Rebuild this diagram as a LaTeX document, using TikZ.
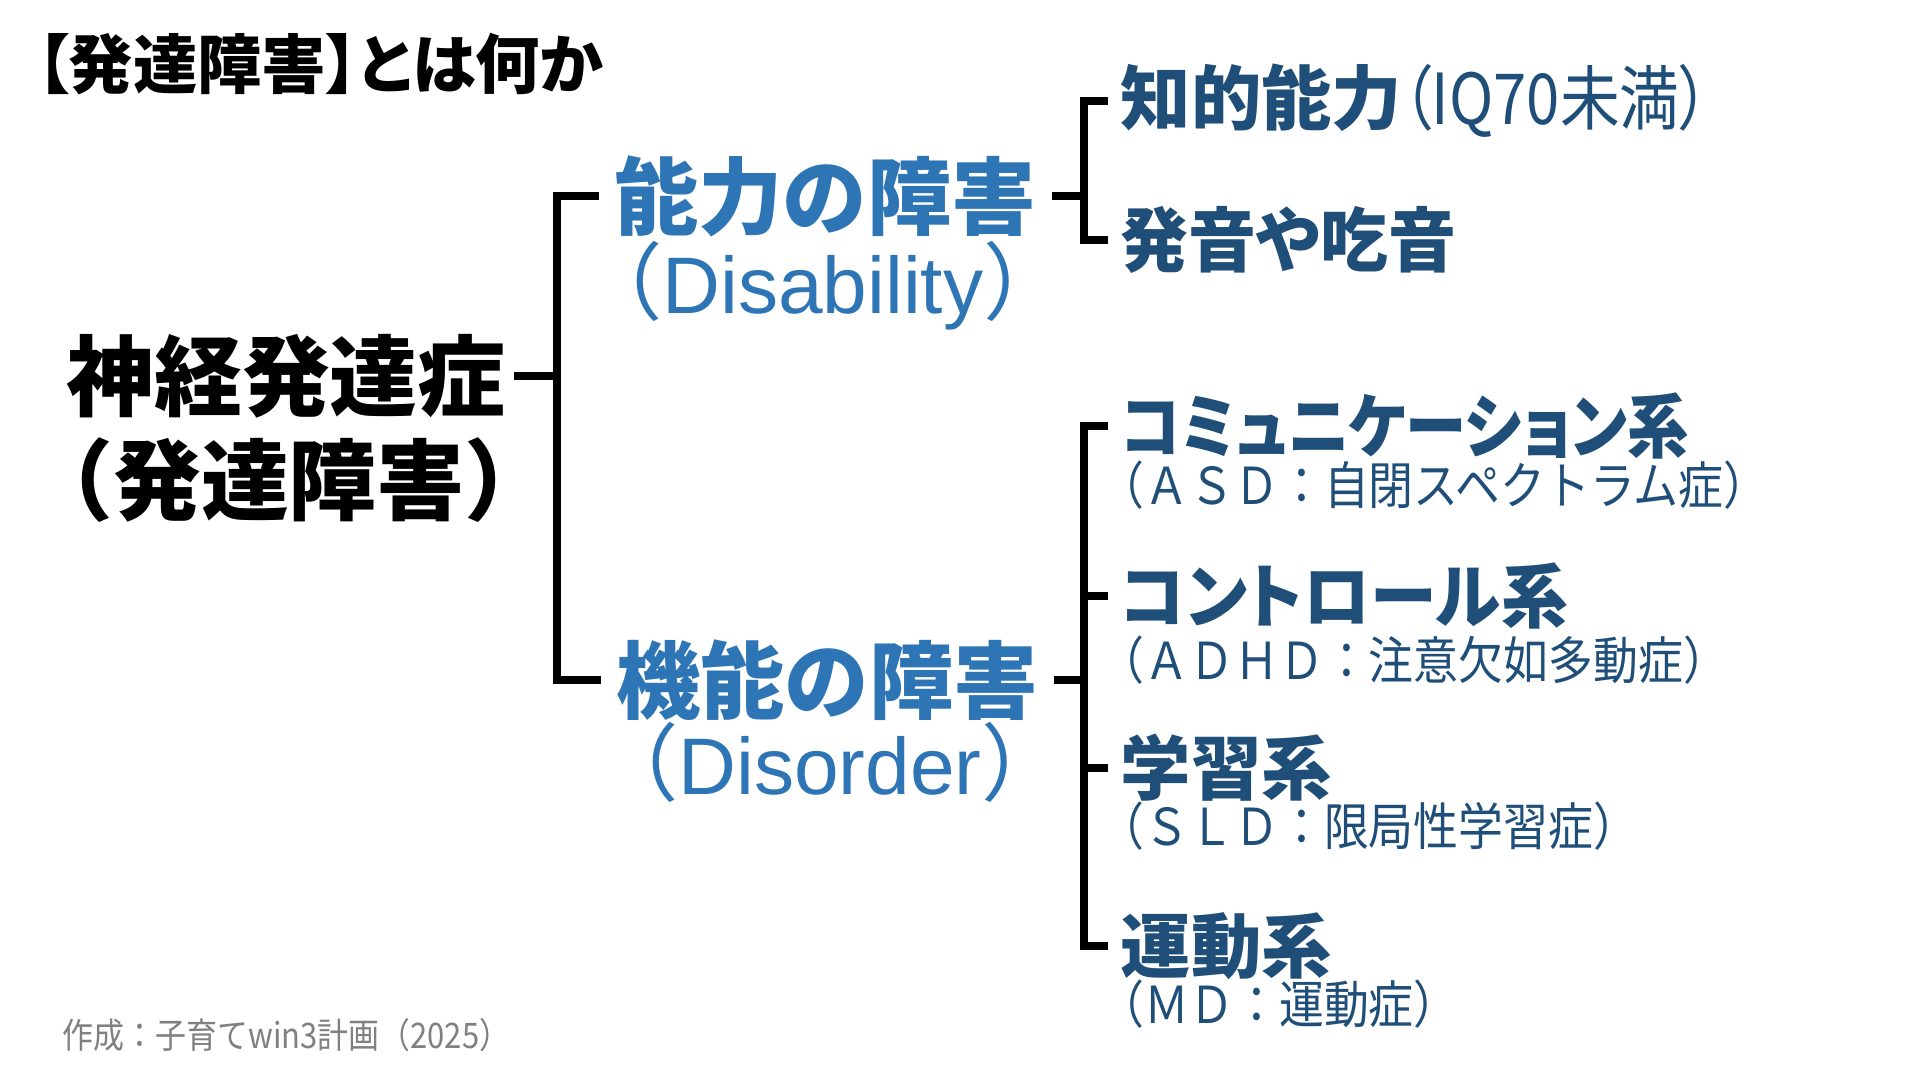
\documentclass[tikz,border=0pt]{standalone}
\usepackage{fontspec}
\usepackage{graphicx}
\usetikzlibrary{calc}
\newfontfamily\jp{Noto Sans CJK JP}
\newfontfamily\jpprop[RawFeature=+palt]{Noto Sans CJK JP}
\newfontfamily\jpnarrow[FakeStretch=0.88]{Noto Sans CJK JP}
\newfontfamily\jpnarrowprop[FakeStretch=0.85,RawFeature=+palt]{Noto Sans CJK JP}
\newfontfamily\latin{Liberation Sans}
\definecolor{navy}{HTML}{1F4E79}
\definecolor{midblue}{HTML}{2E75B6}
\definecolor{footgray}{HTML}{808080}
\tikzset{
  tree/.style={line width=2.3pt, line join=miter},
  title/.style={anchor=west, inner sep=0pt, font=\jpprop\bfseries\fontsize{18.3}{21}\selectfont},
  root/.style={inner sep=0pt, font=\jp\bfseries\fontsize{25}{30}\selectfont},
  group/.style={inner sep=0pt, text=midblue, font=\jp\bfseries\fontsize{24}{28}\selectfont},
  groupen/.style={inner sep=0pt, text=midblue, font=\jp\fontsize{24}{28}\selectfont},
  leaf/.style={anchor=west, inner sep=0pt, text=navy, font=\jpprop\bfseries\fontsize{20}{24}\selectfont},
  leafsub/.style={anchor=west, inner sep=0pt, text=navy, font=\jpnarrow\fontsize{14.5}{17}\selectfont},
  credit/.style={anchor=west, inner sep=0pt, text=footgray, font=\jpnarrow\fontsize{10}{12}\selectfont},
}
\newcommand{\en}[1]{{\latin\fontsize{22.8}{26}\selectfont #1}}
\newcommand{\squeeze}[2]{\scalebox{#1}[1]{#2}}

\begin{document}
\begin{tikzpicture}[x=0.01cm,y=-0.01cm]
    \fill[white] (0,0) rectangle (1920,1080);
    \useasboundingbox (0,0) rectangle (1920,1080);

    \node[title] (title) at (36,64) {【発達障害】とは何か};

    \node[root] (root) at (286,376) {神経発達症};
    \node[root] (rootsub) at (289,480) {（発達障害）};

    \node[group] (ability) at (825,196) {能力の障害};
    \node[groupen] (abilityen) at (823,286) {（\en{Disability}）};
    \node[group] (function) at (827,680) {機能の障害};
    \node[groupen] (functionen) at (830,762) {（\en{Disorder}）};

    \node[leaf] (iq) at (1120,101) {知的能力{\jpnarrowprop\mdseries（IQ70未満）}};
    \node[leaf] (speech) at (1120,240) {\squeeze{0.965}{発音や吃音}};

    \node[leaf] (comm) at (1120,426) {\squeeze{0.873}{コミュニケーション系}};
    \node[leafsub] (commsub) at (1099,485) {（ＡＳＤ：自閉スペクトラム症）};
    \node[leaf] (control) at (1120,596) {\squeeze{0.95}{コントロール系}};
    \node[leafsub] (controlsub) at (1099,660) {（ＡＤＨＤ：注意欠如多動症）};
    \node[leaf] (learning) at (1120,768) {学習系};
    \node[leafsub] (learningsub) at (1099,826) {（ＳＬＤ：限局性学習症）};
    \node[leaf] (motor) at (1120,946) {運動系};
    \node[leafsub] (motorsub) at (1099,1004) {（ＭＤ：運動症）};

    \node[credit] (credit) at (62,1035) {作成：子育てwin3計画（2025）};

    \coordinate (spine) at (557,0);
    \coordinate (spineab) at (1084,0);
    \coordinate (spinefn) at (1084,0);
    \draw[tree] ($(root.east)+(8,0)$) -- (root.east -| spine);
    \draw[tree] ($(ability.west)+(-14,0)$) -- (ability.west -| spine) -- (function.west -| spine) -- ($(function.west)+(-14,0)$);
    \draw[tree] ($(ability.east)+(15,0)$) -- (ability.east -| spineab);
    \draw[tree] ($(iq.west)+(-12,0)$) -- (iq.west -| spineab) -- (speech.west -| spineab) -- ($(speech.west)+(-12,0)$);
    \draw[tree] ($(function.east)+(15,0)$) -- (function.east -| spinefn);
    \draw[tree] ($(comm.west)+(-12,0)$) -- (comm.west -| spinefn) -- (motor.west -| spinefn) -- ($(motor.west)+(-12,0)$);
    \draw[tree] ($(control.west)+(-12,0)$) -- (control.west -| spinefn);
    \draw[tree] ($(learning.west)+(-12,0)$) -- (learning.west -| spinefn);
\end{tikzpicture}
\end{document}
